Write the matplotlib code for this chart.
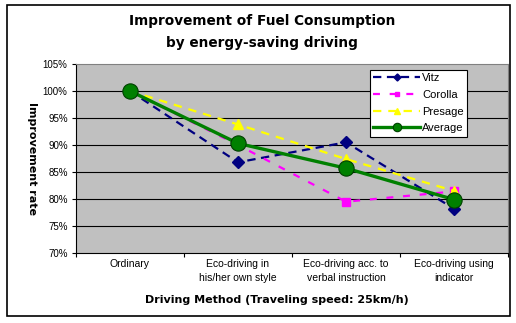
import numpy as np
import matplotlib
matplotlib.use('Agg')
from matplotlib import pyplot as plt
from matplotlib.patches import Rectangle

###################
# Chart data      #
###################
categories = ['Ordinary',
              'Eco-driving in\nhis/her own style',
              'Eco-driving acc. to\nverbal instruction',
              'Eco-driving using\nindicator']
vitz = [100.0, 86.8, 90.5, 78.2]
corolla = [100.0, 90.0, 79.5, 81.4]
presage = [100.0, 93.8, 87.4, 81.5]
average = [100.0, 90.3, 85.7, 79.9]
y_ticks = [70, 75, 80, 85, 90, 95, 100, 105]

title = 'Improvement of Fuel Consumption\nby energy-saving driving'
x_label = 'Driving Method (Traveling speed: 25km/h)'
y_label = 'Improvement rate'

plt.rcParams['lines.scale_dashes'] = False
tick_font = 'Liberation Sans'

W, H = 516, 323
fig = plt.figure(figsize=(W / 100, H / 100), dpi=100)
fig.patch.set_facecolor('white')

# px -> figure fraction helpers
def fx(px):
    return px / W

def fy(py):
    return 1 - py / H

ax = fig.add_axes([fx(76), fy(253), fx(508) - fx(76), fy(64) - fy(253)])
ax.set_facecolor('#c0c0c0')

x = np.arange(len(categories))

# Plot the series
ax.plot(x, vitz, color='#000080', lw=1.6, ls=(0, (6, 4)), marker='D',
        ms=6.5, mfc='#000080', mec='#000080', label='Vitz', zorder=3)
ax.plot(x, corolla, color='#ff00ff', lw=1.6, ls=(0, (5, 7)), marker='s',
        ms=6, mfc='#ff00ff', mec='#ff00ff', label='Corolla', zorder=3)
ax.plot(x, presage, color='#ffff00', lw=1.6, ls=(0, (6, 5)), marker='^',
        ms=7, mfc='#ffff00', mec='#ffff00', label='Presage', zorder=3)
ax.plot(x, average, color='#008000', lw=2.4, ls='-', marker='o',
        ms=11, mfc='#008000', mec='#004000', mew=0.8, label='Average', zorder=4)

# Axes limits and ticks
ax.set_xlim(-0.5, len(categories) - 0.5)
ax.set_ylim(70, 105)
ax.set_yticks(y_ticks)
ax.set_yticklabels(['%d%%' % v for v in y_ticks], fontsize=7, family=tick_font)
ax.set_xticks(x)
ax.set_xticklabels(categories, fontsize=7.5, family=tick_font, linespacing=1.5)
ax.set_xticks(np.arange(-0.5, len(categories)), minor=True)
ax.tick_params(axis='x', which='major', length=0, pad=4)
ax.tick_params(axis='x', which='minor', length=3, width=0.8, color='black')
ax.tick_params(axis='y', length=3, width=0.8, pad=3)

# Horizontal grid
for v in y_ticks[1:-1]:
    ax.axhline(v, color='black', lw=0.8, zorder=1)

ax.spines['left'].set_color('black')
ax.spines['bottom'].set_color('black')
ax.spines['top'].set_color('#808080')
ax.spines['right'].set_color('#808080')
for s in ax.spines.values():
    s.set_linewidth(0.8)

# Labels and title
fig.text(fx(262), fy(32), title, ha='center', va='center', fontsize=9.8,
         fontweight='bold', linespacing=1.75)
fig.text(fx(277), fy(300), x_label, ha='center', va='center', fontsize=8,
         fontweight='bold')
fig.text(fx(32), fy(159), y_label, ha='center', va='center', fontsize=8,
         fontweight='bold', rotation=-90)

# Legend
leg = ax.legend(loc='upper left', bbox_to_anchor=(fx(370 - 76) / (fx(508) - fx(76)), 1 - (70 - 64) / 189),
                prop={'family': tick_font, 'size': 8}, frameon=True, fancybox=False,
                edgecolor='black', facecolor='white', framealpha=1, handlelength=4.2,
                markerscale=0.55, borderpad=0.3, labelspacing=0.6, handletextpad=0.2,
                borderaxespad=0)
leg.get_frame().set_linewidth(0.8)

# Outer frame
fig.patches.append(Rectangle((fx(7), fy(316)), fx(510) - fx(7), fy(5) - fy(316),
                             transform=fig.transFigure, fill=False,
                             edgecolor='black', lw=1.2))

fig.savefig('out.png', dpi=100)
